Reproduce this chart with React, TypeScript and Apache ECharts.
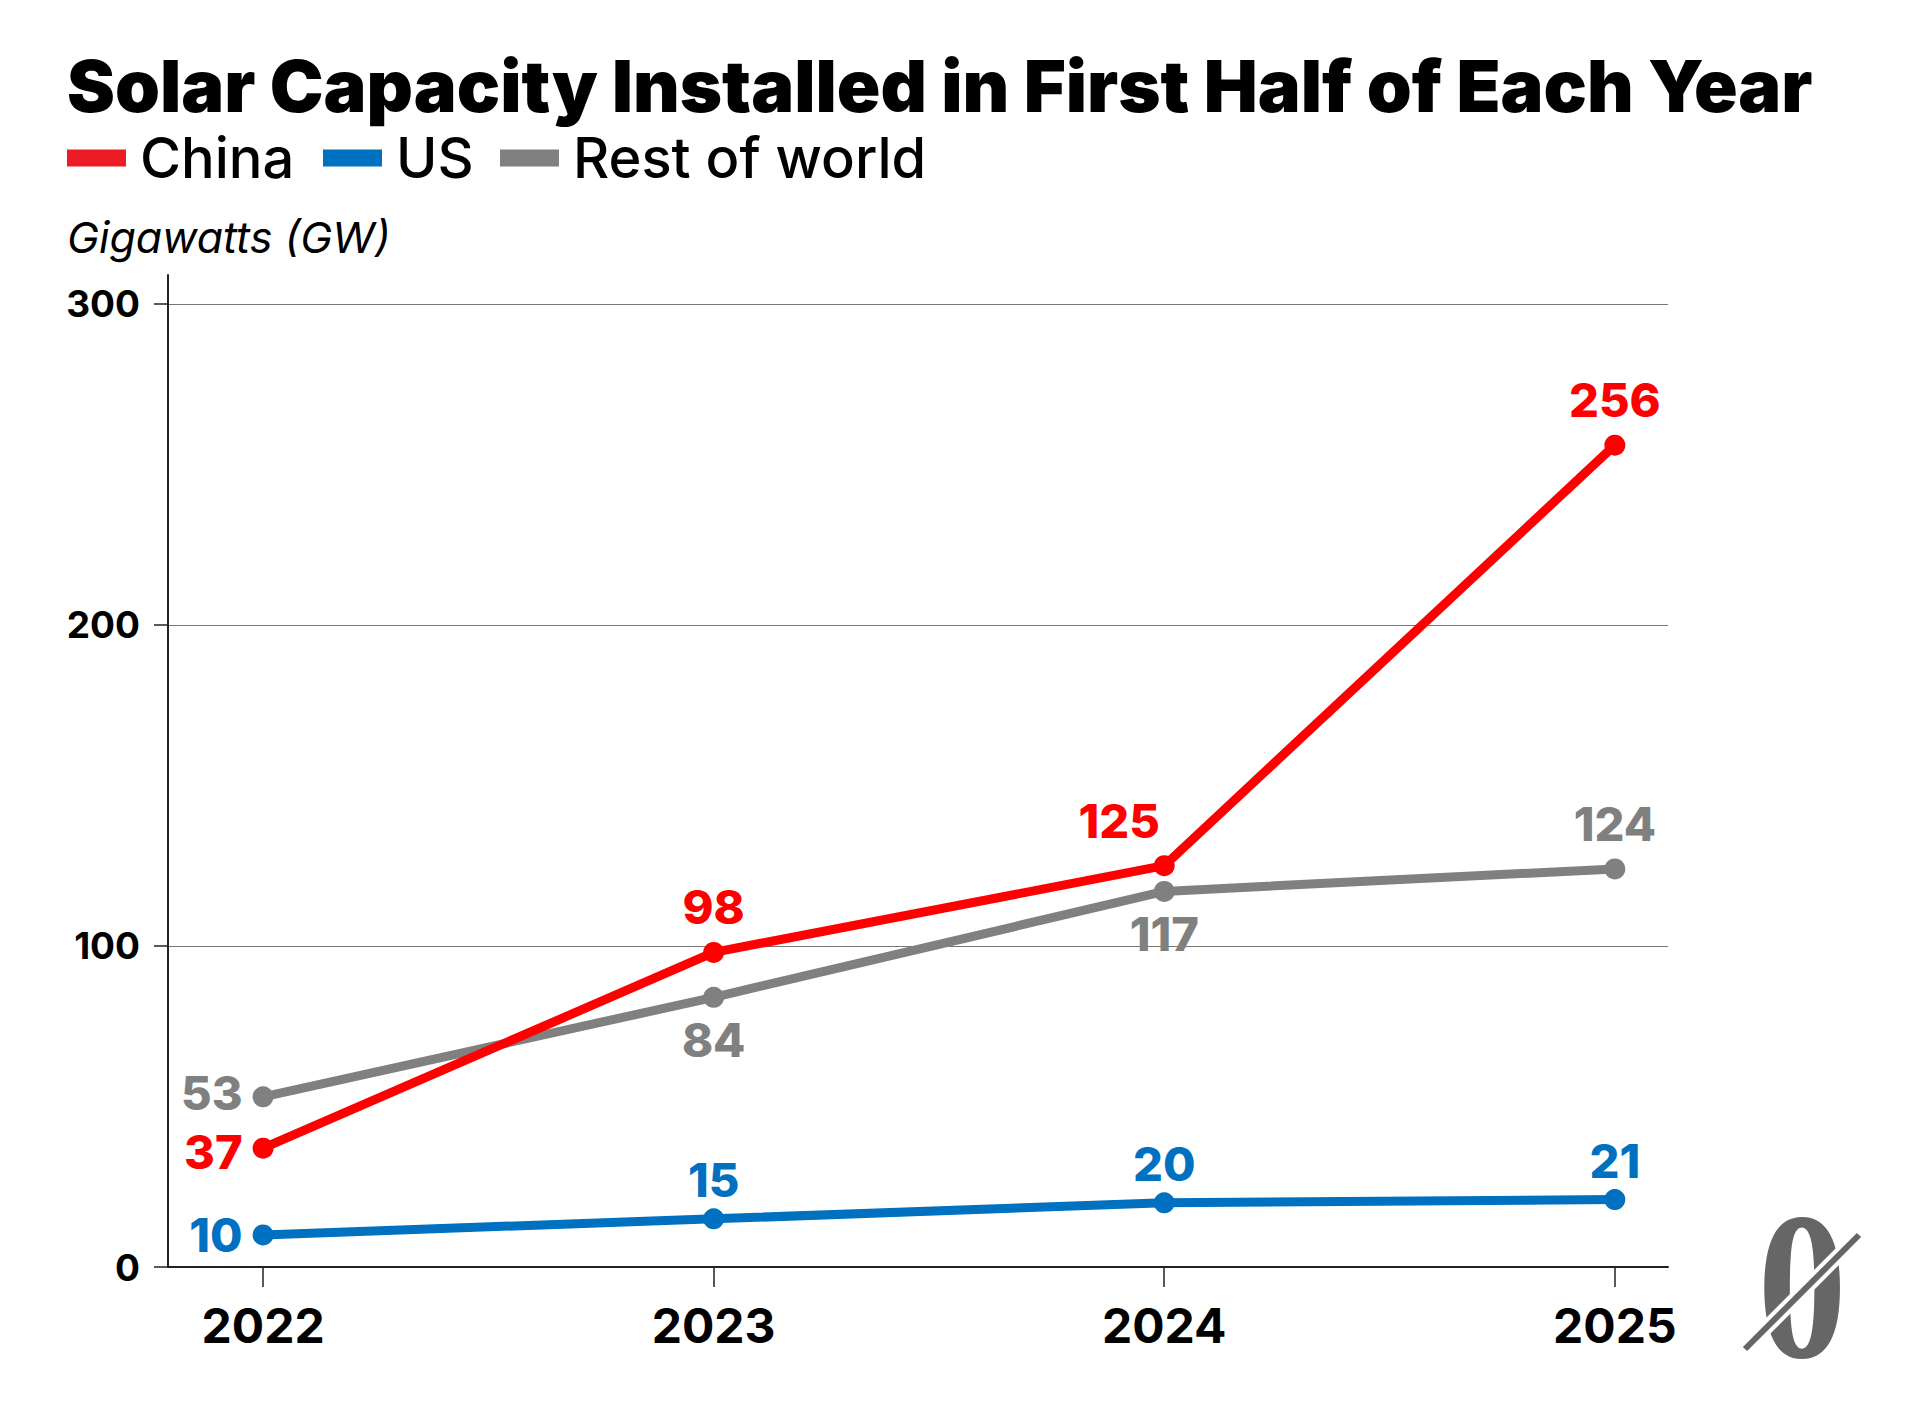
import React, { useEffect, useRef } from "react";
import * as echarts from "echarts";

const TITLE = "Solar Capacity Installed in First Half of Each Year";
const UNIT_LABEL = "Gigawatts (GW)";
const years = [2022, 2023, 2024, 2025];
const yTicks = [0, 100, 200, 300];
const seriesNames = ["China", "US", "Rest of world"];
const china = [37, 98, 125, 256];
const us = [10, 15, 20, 21];
const rest = [53, 84, 117, 124];

const RED = "#ff0000";
const BLUE = "#0070c0";
const GRAY = "#808080";
const legendColors = ["#ed1c24", "#0070c0", "#808080"];
const legendLefts = [67, 323, 500];

type Pos = "left" | "top" | "bottom";

function buildData(values: number[], positions: Pos[], offsets: Record<number, number[]>, topDist: number) {
  return years.map((yr, i) => {
    const pos = positions[i];
    const dist = pos === "left" ? 10 : pos === "top" ? topDist : 12;
    const label: any = { position: pos, distance: dist };
    if (offsets[i]) label.offset = offsets[i];
    return { value: [yr, values[i]], label };
  });
}

export default function App() {
  const ref = useRef<HTMLDivElement>(null);
  useEffect(() => {
    document.body.style.margin = "0";
    if (!ref.current) return;
    const chart = echarts.init(ref.current, undefined, { renderer: "svg" });

    const mkSeries = (name: string, color: string, data: any[]) => ({
      name,
      type: "line",
      data,
      symbol: "circle",
      symbolSize: 21,
      lineStyle: { color, width: 9 },
      itemStyle: { color },
      label: {
        show: true,
        color,
        fontFamily: "Inter",
        fontSize: 47,
        fontWeight: 800,
        lineHeight: 40,
        formatter: (p: any) => String(p.value[1]),
      },
      emphasis: { disabled: true },
    });

    const option: any = {
      animation: false,
      backgroundColor: "#ffffff",
      textStyle: { fontFamily: "Inter" },
      title: [
        {
          text: TITLE,
          left: 67,
          top: 50,
          padding: 0,
          textStyle: { fontFamily: "Inter", fontWeight: 900, fontSize: 72, lineHeight: 70, color: "#000" },
        },
        {
          text: UNIT_LABEL,
          left: 67,
          top: 217,
          padding: 0,
          textStyle: { fontFamily: "Inter", fontStyle: "italic", fontWeight: 400, fontSize: 43, lineHeight: 40, color: "#000" },
        },
      ],
      legend: seriesNames.map((n, i) => ({
        data: [{ name: n, itemStyle: { color: legendColors[i] } }],
        left: legendLefts[i],
        top: 130,
        padding: 0,
        icon: "rect",
        itemWidth: 59,
        itemHeight: 17,
        selectedMode: false,
        textStyle: { fontFamily: "Inter", fontSize: 56, fontWeight: 500, lineHeight: 54, color: "#000", padding: [0, 0, 0, 9] },
      })),
      grid: { left: 168, right: 246, top: 275, bottom: 149, containLabel: false, outerBoundsMode: "none" },
      xAxis: {
        type: "value",
        min: 2021.789,
        max: 2025.118,
        axisLine: { show: true, onZero: false, lineStyle: { color: "#222", width: 2 } },
        axisTick: { show: true, length: 20, customValues: years, lineStyle: { color: "#222", width: 1.5 } },
        axisLabel: {
          customValues: years,
          margin: 34,
          fontFamily: "Inter",
          fontSize: 48,
          fontWeight: 700,
          lineHeight: 48,
          color: "#000",
          formatter: (v: number) => String(Math.round(v)),
        },
        splitLine: { show: false },
      },
      yAxis: {
        type: "value",
        min: 0,
        max: 309,
        axisLine: { show: true, lineStyle: { color: "#222", width: 2 } },
        axisTick: { show: true, length: 14, customValues: yTicks, lineStyle: { color: "#222", width: 1.5 } },
        axisLabel: {
          customValues: yTicks,
          margin: 28,
          fontFamily: "Inter",
          fontSize: 37,
          fontWeight: 700,
          color: "#000",
          formatter: (v: number) => String(Math.round(v)),
        },
        splitLine: { show: true, lineStyle: { color: "#777", width: 1 } },
      },
      series: [
        mkSeries("US", BLUE, buildData(us, ["left", "top", "top", "top"], {}, 9)),
        mkSeries("Rest of world", GRAY, buildData(rest, ["left", "bottom", "bottom", "top"], { 0: [0, -4] }, 15)),
        mkSeries("China", RED, buildData(china, ["left", "top", "top", "top"], { 0: [0, 3], 2: [-45, 0] }, 15)),
      ],
      graphic: [
        {
          type: "text",
          x: 1802,
          y: 1286,
          scaleX: 0.85,
          style: {
            text: "0",
            x: 0,
            y: 0,
            fontFamily: "Liberation Serif",
            fontWeight: "bold",
            fontSize: 210,
            fill: "#666",
            align: "center",
            verticalAlign: "middle",
          },
        },
        { type: "line", shape: { x1: 1745, y1: 1349, x2: 1859, y2: 1235 }, style: { stroke: "#fff", lineWidth: 14 } },
        { type: "line", shape: { x1: 1745, y1: 1349, x2: 1859, y2: 1235 }, style: { stroke: "#666", lineWidth: 6 } },
      ],
    };
    chart.setOption(option);
    return () => chart.dispose();
  }, []);
  return <div ref={ref} style={{ width: 1914, height: 1416 }} />;
}
